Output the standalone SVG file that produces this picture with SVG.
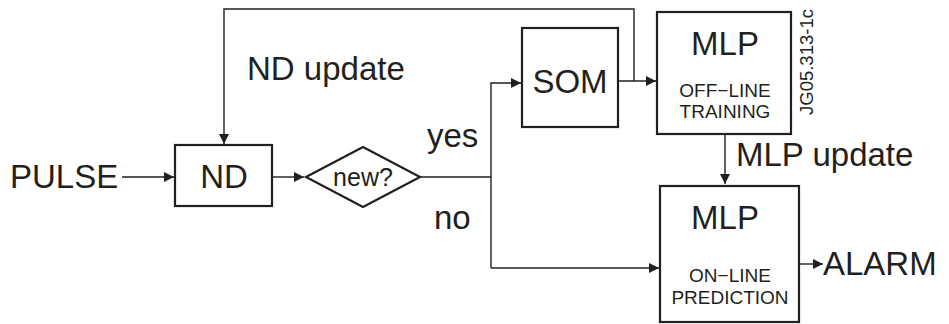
<svg xmlns="http://www.w3.org/2000/svg" width="949" height="324" viewBox="0 0 949 324">
  <style>
    .box { fill: #ffffff; stroke: #231f20; stroke-width: 2.2; }
    .wire { fill: none; stroke: #231f20; stroke-width: 1.4; }
    text { font-family: "Liberation Sans", Arial, sans-serif; fill: #231f20; }
    .big { font-size: 33px; }
    .mid { font-size: 25px; }
    .small { font-size: 19px; }
    .tag { font-size: 18.5px; }
  </style>
  <defs>
    <marker id="arrow" viewBox="0 0 10 10" refX="10" refY="5" markerWidth="10" markerHeight="10" markerUnits="userSpaceOnUse" orient="auto">
      <path d="M0,0 L10,5 L0,10 z" fill="#231f20"/>
    </marker>
  </defs>

  <!-- connectors -->
  <g id="connectors">
    <path class="wire" d="M122,177 L174,177" marker-end="url(#arrow)"/>
    <path class="wire" d="M272,177 L304,177" marker-end="url(#arrow)"/>
    <path class="wire" d="M420,177 L491,177"/>
    <path class="wire" d="M491,268 L491,83 L521,83" marker-end="url(#arrow)"/>
    <path class="wire" d="M491,268 L659,268" marker-end="url(#arrow)"/>
    <path class="wire" d="M618,81 L656,81" marker-end="url(#arrow)"/>
    <path class="wire" d="M634,81 L634,9 L224,9 L224,144" marker-end="url(#arrow)"/>
    <path class="wire" d="M725,134 L725,184" marker-end="url(#arrow)"/>
    <path class="wire" d="M799,264 L823,264" marker-end="url(#arrow)"/>
  </g>

  <!-- free labels -->
  <text class="big" x="10" y="188">PULSE</text>
  <text class="big" x="247" y="80">ND update</text>
  <text class="big" x="427" y="147">yes</text>
  <text class="big" x="434" y="229">no</text>
  <text class="big" x="736" y="166">MLP update</text>
  <text class="big" x="823" y="275">ALARM</text>
  <text class="tag" transform="translate(813,115) rotate(-90)">JG05.313-1c</text>

  <g id="nd">
    <rect class="box" x="175" y="145" width="97" height="61"/>
    <text class="big" x="224" y="188" text-anchor="middle">ND</text>
  </g>

  <g id="new">
    <polygon class="box" points="306,177 363,147 420,177 363,207"/>
    <text class="mid" x="363" y="186" text-anchor="middle">new?</text>
  </g>

  <g id="som">
    <rect class="box" x="522" y="28" width="96" height="99"/>
    <text class="big" x="570" y="93" text-anchor="middle">SOM</text>
  </g>

  <g id="mlp-offline">
    <rect class="box" x="657" y="12" width="134" height="122"/>
    <text class="big" x="725" y="55" text-anchor="middle">MLP</text>
    <text class="small" x="725" y="97" text-anchor="middle">OFF−LINE</text>
    <text class="small" x="725" y="118" text-anchor="middle">TRAINING</text>
  </g>

  <g id="mlp-online">
    <rect class="box" x="660" y="186" width="139" height="136"/>
    <text class="big" x="725" y="229" text-anchor="middle">MLP</text>
    <text class="small" x="730" y="282" text-anchor="middle">ON−LINE</text>
    <text class="small" x="730" y="304" text-anchor="middle">PREDICTION</text>
  </g>
</svg>
